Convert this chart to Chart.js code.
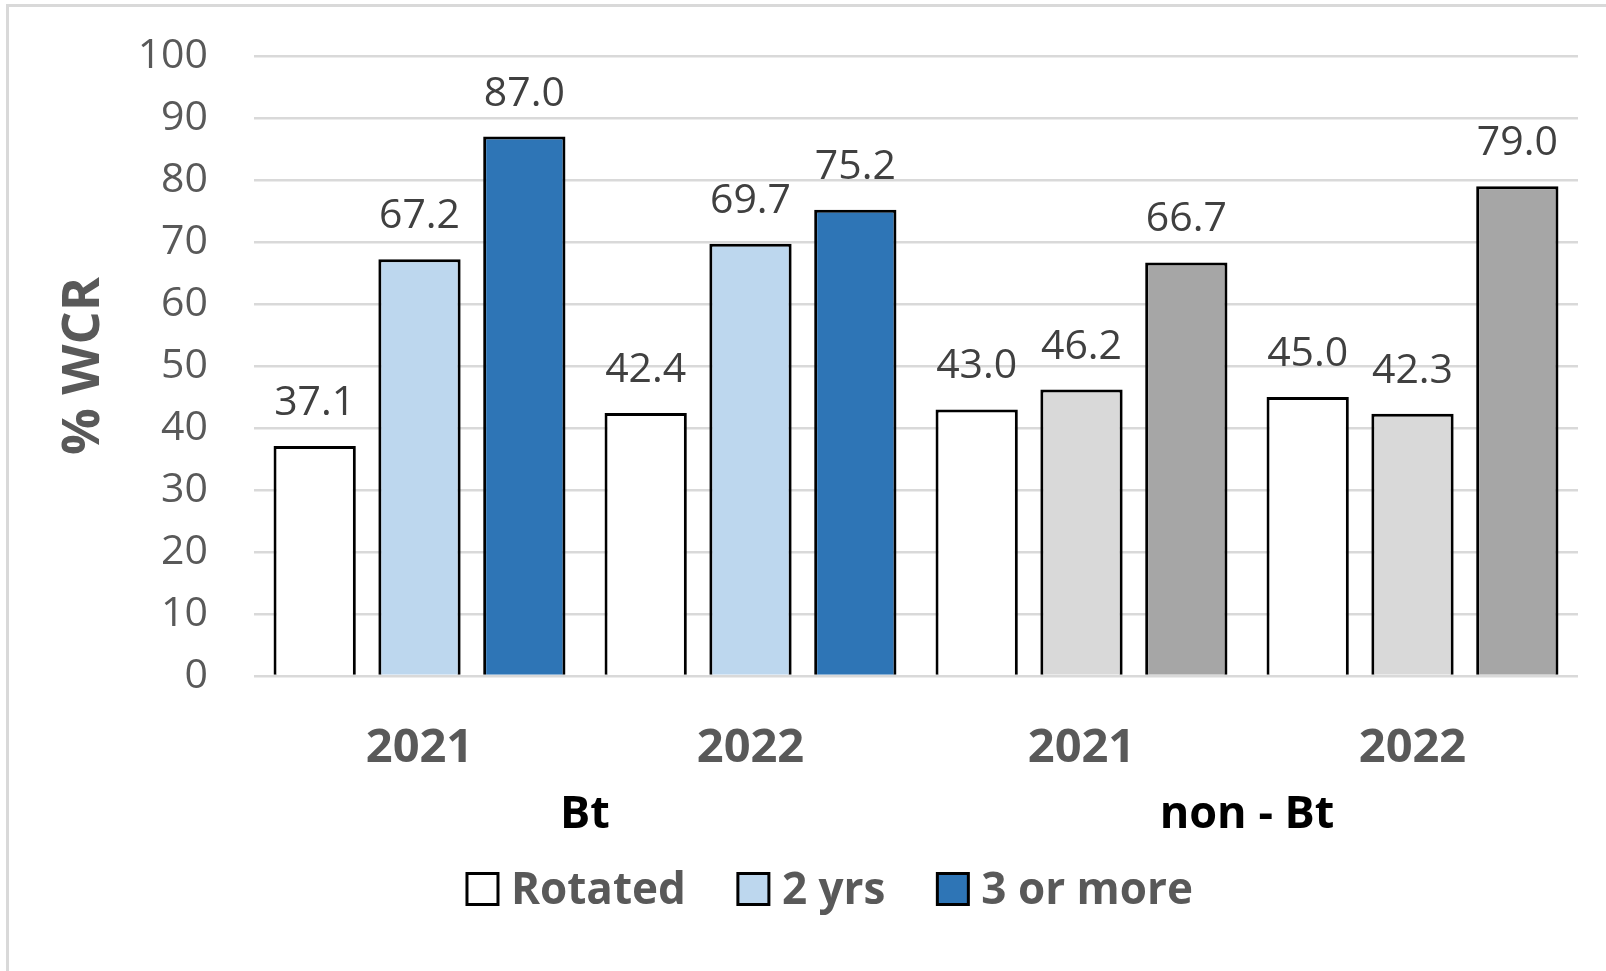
<!DOCTYPE html>
<html>
<head>
<meta charset="utf-8">
<title>% WCR</title>
<script src="https://cdn.jsdelivr.net/npm/chart.js@4.4.1/dist/chart.umd.min.js"></script>
<style>
  html, body { margin: 0; padding: 0; background: #fff; overflow: hidden; }
  #wrap { position: relative; width: 1606px; height: 971px; overflow: hidden; }
  #frame { position: absolute; left: 6px; top: 4px; width: 1700px; height: 1100px; border: 3px solid #d9d9d9; box-sizing: border-box; }
  canvas { position: absolute; left: 0; top: 0; }
</style>
</head>
<body>
<div id="wrap">
  <div id="frame"></div>
  <canvas id="wcrChart" width="1606" height="971"></canvas>
</div>
<script>
    // Data
    const categories = ["2021", "2022", "2021", "2022"];
    const groups = ["Bt", "non - Bt"];
    const seriesNames = ["Rotated", "2 yrs", "3 or more"];

    const rotated = [37.1, 42.4, 43.0, 45.0];
    const twoYears = [67.2, 69.7, 46.2, 42.3];
    const threePlus = [87.0, 75.2, 66.7, 79.0];

    const yTicks = [0, 10, 20, 30, 40, 50, 60, 70, 80, 90, 100];

    // Colours: Bt bars in blue, non-Bt bars in gray
    const WHITE = "#ffffff";
    const BT_LIGHT = "#bdd7ee";
    const BT_DARK = "#2e75b6";
    const NB_LIGHT = "#d9d9d9";
    const NB_DARK = "#a6a6a6";
    const FONT = "'Open Sans', 'Noto Sans', sans-serif";

    // Value above every bar
    const barValueLabels = {
        id: "barValueLabels",
        afterDatasetsDraw(chart) {
            const c = chart.ctx;
            c.save();
            c.font = "41px " + FONT;
            c.fillStyle = "#404040";
            c.textAlign = "center";
            c.textBaseline = "alphabetic";
            chart.data.datasets.forEach((ds, i) => {
                chart.getDatasetMeta(i).data.forEach((bar, j) => {
                    c.fillText(ds.data[j].toFixed(1), bar.x, bar.y - 31);
                });
            });
            c.restore();
        }
    };

    // "Bt" / "non - Bt" under each pair of years
    const groupLabels = {
        id: "groupLabels",
        afterDraw(chart) {
            const c = chart.ctx;
            const x = chart.scales.x;
            c.save();
            c.font = "bold 45px " + FONT;
            c.fillStyle = "#000000";
            c.textAlign = "center";
            c.textBaseline = "middle";
            groups.forEach((g, k) => {
                const cx = (x.getPixelForValue(k * 2) + x.getPixelForValue(k * 2 + 1)) / 2;
                c.fillText(g, cx, 815);
            });
            c.restore();
        }
    };

    // Legend row at the bottom
    const bottomLegend = {
        id: "bottomLegend",
        afterDraw(chart) {
            const c = chart.ctx;
            const swatches = [WHITE, BT_LIGHT, BT_DARK];
            const box = 31, gapText = 13, gapItem = 52, cy = 889, centre = 830;
            c.save();
            c.font = "bold 44px " + FONT;
            c.textBaseline = "middle";
            c.textAlign = "left";
            const widths = seriesNames.map(s => c.measureText(s).width);
            let total = 0;
            widths.forEach((w, i) => { total += box + gapText + w + (i < widths.length - 1 ? gapItem : 0); });
            let x = centre - total / 2;
            seriesNames.forEach((s, i) => {
                c.fillStyle = swatches[i];
                c.fillRect(x, cy - box / 2, box, box);
                c.strokeStyle = "#000000";
                c.lineWidth = 3;
                c.strokeRect(x, cy - box / 2, box, box);
                c.fillStyle = "#595959";
                c.fillText(s, x + box + gapText, cy + 2);
                x += box + gapText + widths[i] + gapItem;
            });
            c.restore();
        }
    };

    const ctx = document.getElementById("wcrChart").getContext("2d");
    new Chart(ctx, {
        type: "bar",
        data: {
            labels: categories,
            datasets: [
                {
                    label: seriesNames[0],
                    data: rotated,
                    backgroundColor: WHITE,
                    borderColor: "#000000",
                    borderWidth: 3
                },
                {
                    label: seriesNames[1],
                    data: twoYears,
                    backgroundColor: [BT_LIGHT, BT_LIGHT, NB_LIGHT, NB_LIGHT],
                    borderColor: "#000000",
                    borderWidth: 3
                },
                {
                    label: seriesNames[2],
                    data: threePlus,
                    backgroundColor: [BT_DARK, BT_DARK, NB_DARK, NB_DARK],
                    borderColor: "#000000",
                    borderWidth: 3
                }
            ]
        },
        options: {
            responsive: false,
            animation: false,
            layout: { padding: { left: 49, right: 28, top: 56, bottom: 0 } },
            datasets: { bar: { categoryPercentage: 0.95, barPercentage: 0.785 } },
            plugins: {
                legend: { display: false },
                tooltip: { enabled: false }
            },
            scales: {
                x: {
                    grid: { display: false },
                    border: { display: false },
                    ticks: {
                        color: "#595959",
                        font: { family: FONT, size: 47, weight: "bold" },
                        padding: 36
                    },
                    afterFit(s) {
                        s.height = 295;
                        s.paddingLeft = 0;
                        s.paddingRight = 0;
                    }
                },
                y: {
                    min: 0,
                    max: 100,
                    afterBuildTicks(s) {
                        s.ticks = yTicks.map(v => ({ value: v }));
                    },
                    ticks: {
                        color: "#595959",
                        font: { family: FONT, size: 41 },
                        padding: 46
                    },
                    grid: { color: "#d9d9d9", lineWidth: 2.5, drawTicks: false },
                    border: { display: false },
                    title: {
                        display: true,
                        text: "% WCR",
                        color: "#595959",
                        font: { family: FONT, size: 52, weight: "bold" },
                        padding: { top: 4, bottom: 4 }
                    },
                    afterFit(s) {
                        s.width = 205;
                        s.paddingTop = 0;
                        s.paddingBottom = 0;
                    }
                }
            }
        },
        plugins: [barValueLabels, groupLabels, bottomLegend]
    });
</script>
</body>
</html>
